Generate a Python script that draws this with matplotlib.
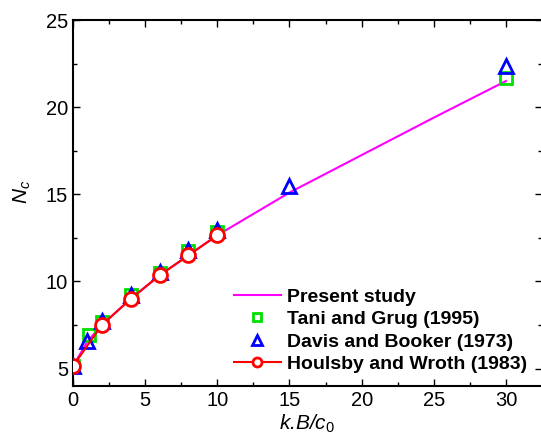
import matplotlib.pyplot as plt
from matplotlib.ticker import MultipleLocator

plt.rcParams['font.family'] = ['Liberation Sans', 'DejaVu Sans']
plt.rcParams['mathtext.fontset'] = 'custom'
plt.rcParams['mathtext.it'] = 'Liberation Sans:italic'
plt.rcParams['mathtext.rm'] = 'Liberation Sans'

# present study (line)
x_present = [0, 1, 2, 4, 6, 8, 10, 15, 20, 25, 30]
nc_present = [5.14, 6.55, 7.5, 9.0, 10.35, 11.5, 12.65, 15.1, 17.25, 19.4, 21.5]

# Tani and Grug (1995)
x_tani = [0, 1.1, 2, 4, 6, 8, 10, 30]
nc_tani = [5.14, 6.95, 7.7, 9.2, 10.5, 11.75, 12.85, 21.7]

# Davis and Booker (1973)
x_davis = [0, 1, 2, 4, 6, 8, 10, 15, 30]
nc_davis = [5.14, 6.57, 7.75, 9.25, 10.55, 11.8, 12.95, 15.5, 22.35]

# Houlsby and Wroth (1983)
x_houlsby = [0, 2, 4, 6, 8, 10]
nc_houlsby = [5.14, 7.5, 9.0, 10.35, 11.5, 12.65]

fig = plt.figure(figsize=(5.41, 4.46), dpi=100)
ax = fig.add_axes([0.1349, 0.1345, 0.867, 0.8206])

ax.plot(x_present, nc_present, color='#ff00ff', lw=1.5, label='Present study', zorder=2)
ax.plot(x_tani, nc_tani, ls='none', marker='s', ms=8, mfc='none', mec='#00e000', mew=2,
        label='Tani and Grug (1995)', zorder=3)
ax.plot(x_davis, nc_davis, ls='none', marker='^', ms=10, mfc='none', mec='#0000ff', mew=2,
        label='Davis and Booker (1973)', zorder=4)
ax.plot(x_houlsby, nc_houlsby, color='#ff0000', lw=1.5, marker='o', ms=10, mfc='white',
        mec='#ff0000', mew=2, label='Houlsby and Wroth (1983)', zorder=5)

ax.set_xlim(0, 32.5)
ax.set_ylim(4, 25)
ax.xaxis.set_major_locator(MultipleLocator(5))
ax.xaxis.set_minor_locator(MultipleLocator(2.5))
ax.yaxis.set_major_locator(MultipleLocator(5))
ax.yaxis.set_minor_locator(MultipleLocator(2.5))
ax.tick_params(which='both', direction='in', top=True, right=True, labelsize=14.5)
ax.tick_params(which='major', length=5, width=1)
ax.tick_params(which='minor', length=3, width=1)
for s in ax.spines.values():
    s.set_linewidth(1.5)

ax.set_xlabel(r'k.B/c$_\mathit{0}$', fontsize=15, style='italic', labelpad=2)
ax.set_ylabel(r'$N_c$', fontsize=15)
ax.yaxis.set_label_coords(-0.085, 0.53)

ax.legend(loc='lower left', bbox_to_anchor=(0.343, 0.035), frameon=False,
          borderpad=0, borderaxespad=0, handlelength=2.4, handletextpad=0.35,
          labelspacing=0.25, markerscale=0.65,
          prop={'weight': 'bold', 'size': 14})

fig.savefig('out.png', dpi=100)
